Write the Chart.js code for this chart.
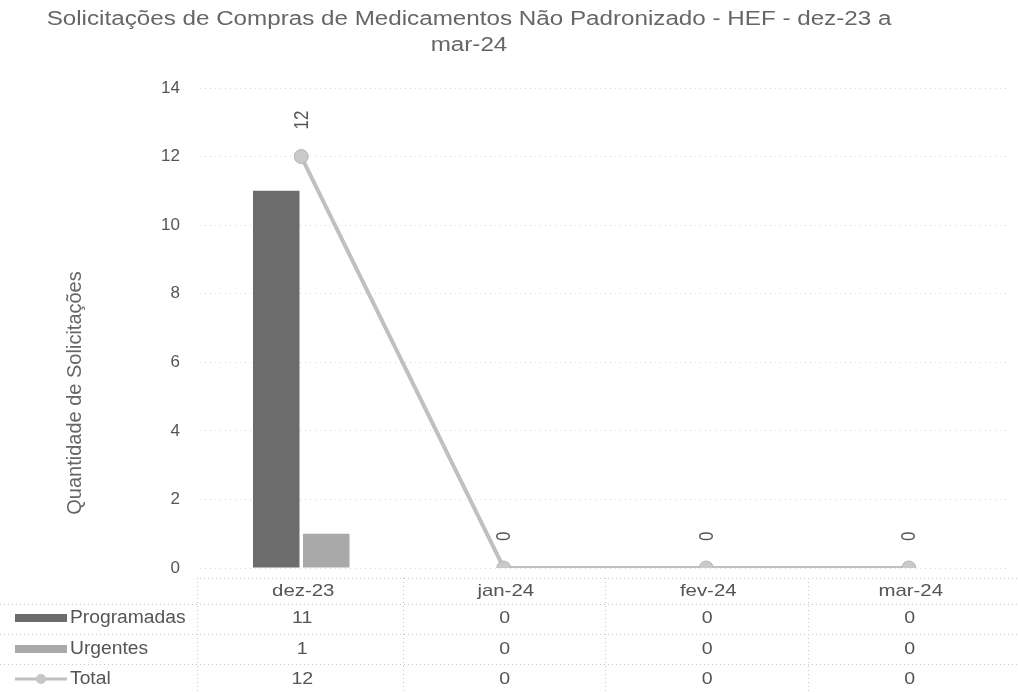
<!DOCTYPE html>
<html><head><meta charset="utf-8">
<script src="https://cdn.jsdelivr.net/npm/chart.js@4.4.0/dist/chart.umd.min.js"></script>
<style>
html,body{margin:0;padding:0;background:#fff;}
#wrap{position:relative;width:1018px;height:693px;}
#title{position:absolute;left:0;top:5px;width:938px;text-align:center;font:20px "Liberation Sans",Arial,sans-serif;color:#666;line-height:26px;transform:scaleX(1.21);transform-origin:469px 0;}
canvas{position:absolute;left:0;top:0;}
</style></head><body>
<div id="wrap"><canvas id="c" width="1018" height="693"></canvas><div id="title">Solicitações de Compras de Medicamentos Não Padronizado - HEF - dez-23 a<br>mar-24</div></div>
<script>
const categories = ['dez-23', 'jan-24', 'fev-24', 'mar-24'];
const programadas = [11, 0, 0, 0];
const urgentes = [1, 0, 0, 0];
const total = [12, 0, 0, 0];
const yTicks = [0, 2, 4, 6, 8, 10, 12, 14];
const seriesNames = ['Programadas', 'Urgentes', 'Total'];
const yAxisTitle = 'Quantidade de Solicitações';

const FONT = '"Liberation Sans", Arial, sans-serif';
const TXT = '#555';
const C_PROG = '#6c6c6c';
const C_URG = '#a9a9a9';
const C_TOT = '#c0c0c0';

function sText(ctx, text, x, y, sx, align) {
  ctx.save();
  ctx.translate(x, y);
  ctx.scale(sx, 1);
  ctx.textAlign = align;
  ctx.textBaseline = 'middle';
  ctx.fillText(text, 0, 0);
  ctx.restore();
}

const tablePlugin = {
  id: 'tablePlugin',
  afterDraw(chart) {
    const ctx = chart.ctx;
    const x = chart.scales.x;
    const ca = chart.chartArea;
    ctx.save();
    // y axis title
    ctx.save();
    ctx.translate(75, 393);
    ctx.rotate(-Math.PI / 2);
    ctx.font = '20px ' + FONT;
    ctx.fillStyle = '#666';
    ctx.textAlign = 'center';
    ctx.textBaseline = 'middle';
    ctx.fillText(yAxisTitle, 0, 0);
    ctx.restore();

    // data labels for total (rotated)
    const meta = chart.getDatasetMeta(0);
    ctx.font = '17px ' + FONT;
    ctx.fillStyle = TXT;
    meta.data.forEach((pt, i) => {
      ctx.save();
      ctx.translate(pt.x + 1, pt.y - 27);
      ctx.rotate(-Math.PI / 2);
      ctx.scale(1, 1.15);
      ctx.textAlign = 'left';
      ctx.textBaseline = 'middle';
      ctx.fillText(String(total[i]), 0, 0);
      ctx.restore();
    });

    // table grid
    const rowsY = [618, 649, 679];
    const seps = [578, 604, 634, 664];
    ctx.strokeStyle = '#c8c8c8';
    ctx.lineWidth = 1;
    ctx.setLineDash([1, 3]);
    seps.forEach(y => {
      ctx.beginPath(); ctx.moveTo(y === 578 ? ca.left : 0, y + 0.5); ctx.lineTo(chart.width, y + 0.5); ctx.stroke();
    });
    const half = (x.getPixelForValue(1) - x.getPixelForValue(0)) / 2;
    const vx = [ca.left - 3];
    categories.forEach((c, i) => { if (i < categories.length - 1) vx.push(x.getPixelForValue(i) + half); });
    vx.forEach(v => {
      ctx.beginPath(); ctx.moveTo(Math.round(v) + 0.5, 578); ctx.lineTo(Math.round(v) + 0.5, 693); ctx.stroke();
    });
    ctx.setLineDash([]);

    // category labels
    ctx.font = '17px ' + FONT;
    ctx.fillStyle = TXT;
    categories.forEach((c, i) => sText(ctx, c, x.getPixelForValue(i) + 2, 591, 1.2, 'center'));

    // legend keys
    const keys = [
      { color: C_PROG, type: 'bar' },
      { color: C_URG, type: 'bar' },
      { color: C_TOT, type: 'line' }
    ];
    keys.forEach((k, r) => {
      const y = rowsY[r];
      if (k.type === 'bar') {
        ctx.fillStyle = k.color;
        ctx.fillRect(15, y - 4, 52, 8);
      } else {
        ctx.strokeStyle = k.color;
        ctx.lineWidth = 3;
        ctx.beginPath(); ctx.moveTo(15, y); ctx.lineTo(67, y); ctx.stroke();
        ctx.fillStyle = '#c6c6c6';
        ctx.beginPath(); ctx.arc(41, y, 5, 0, Math.PI * 2); ctx.fill();
      }
      ctx.fillStyle = TXT;
      ctx.font = '18px ' + FONT;
      sText(ctx, seriesNames[r], 70, y, 1.07, 'left');
    });

    // values
    const rows = [programadas, urgentes, total];
    ctx.font = '17px ' + FONT;
    ctx.fillStyle = TXT;
    rows.forEach((arr, r) => {
      arr.forEach((v, i) => sText(ctx, String(v), x.getPixelForValue(i) + 1, rowsY[r], 1.15, 'center'));
    });
    ctx.restore();
  }
};

new Chart(document.getElementById('c'), {
  type: 'bar',
  data: {
    labels: categories,
    datasets: [
      {
        type: 'line', label: seriesNames[2], data: total,
        borderColor: C_TOT, borderWidth: 4,
        pointRadius: 7, pointBackgroundColor: '#c9c9c9', pointBorderColor: '#b4b4b4', pointBorderWidth: 1,
        tension: 0, order: 0
      },
      {
        label: seriesNames[0], data: programadas, backgroundColor: C_PROG,
        categoryPercentage: 0.494, barPercentage: 0.93, order: 1
      },
      {
        label: seriesNames[1], data: urgentes, backgroundColor: C_URG,
        categoryPercentage: 0.494, barPercentage: 0.93, order: 1
      }
    ]
  },
  options: {
    responsive: false,
    animation: false,
    layout: { padding: { top: 88, left: 0, right: 0, bottom: 0 } },
    plugins: { legend: { display: false }, title: { display: false }, tooltip: { enabled: false } },
    scales: {
      x: {
        grid: { display: false },
        border: { display: false },
        ticks: { display: false },
        afterFit(s) { s.height = 125; }
      },
      y: {
        min: 0, max: 14,
        afterBuildTicks(s) { s.ticks = yTicks.map(v => ({ value: v })); },
        grid: { color: '#d6d6d6', drawTicks: false },
        border: { display: false, dash: [1, 4] },
        ticks: { font: { family: FONT, size: 17 }, color: TXT, padding: 20 },
        afterFit(s) { s.width = 200; }
      }
    }
  },
  plugins: [tablePlugin]
});
</script>
</body></html>
